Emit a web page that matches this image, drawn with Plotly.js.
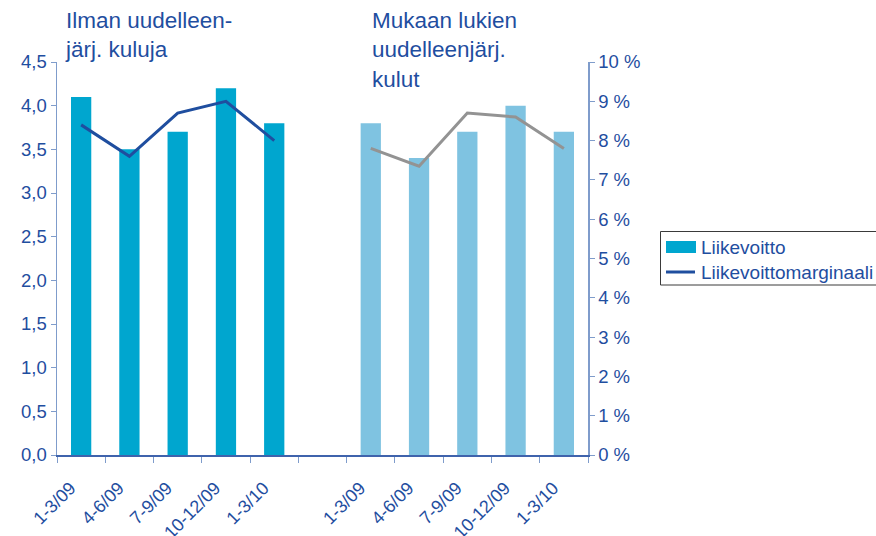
<!DOCTYPE html>
<html>
<head>
<meta charset="utf-8">
<script src="https://cdn.plot.ly/plotly-3.0.1.min.js"></script>
<style>html,body{margin:0;padding:0;background:#fff;}</style>
</head>
<body>
<div id="chart" style="width:876px;height:536px;"></div>
<script>
// Data
const quarters = ["1-3/09", "4-6/09", "7-9/09", "10-12/09", "1-3/10"];
const ebitExclRestructuring = [4.1, 3.5, 3.7, 4.2, 3.8];
const marginExclRestructuring = [8.4, 7.6, 8.7, 9.0, 8.0];
const ebitInclRestructuring = [3.8, 3.4, 3.7, 4.0, 3.7];
const marginInclRestructuring = [7.8, 7.35, 8.7, 8.6, 7.8];
const groupLabels = ["Ilman uudelleen-<br>järj. kuluja", "Mukaan lukien<br>uudelleenjärj.<br>kulut"];
const legendNames = ["Liikevoitto", "Liikevoittomarginaali"];

// positions: group 1 at slots 0..4, empty slot 5, group 2 at 6..10
const xLeft = quarters.map((q, i) => i);
const xRight = quarters.map((q, i) => i + quarters.length + 1);
const labelShift = -0.22;
const tickVals = xLeft.concat(xRight).map(v => v + labelShift);
const tickText = quarters.concat(quarters);

const textColor = "#1F4E9F";
const axisColor = "#7F9CCB";
const barColor1 = "#00A6CF";
const barColor2 = "#7FC3E1";
const lineColor1 = "#1F4E9F";
const lineColor2 = "#939393";
const font = "Liberation Sans, Arial, sans-serif";

const traces = [
  {type: "bar", x: xLeft, y: ebitExclRestructuring, name: legendNames[0],
   marker: {color: barColor1}, width: 0.42},
  {type: "bar", x: xRight, y: ebitInclRestructuring, name: legendNames[0],
   marker: {color: barColor2}, width: 0.42},
  {type: "scatter", mode: "lines", x: xLeft, y: marginExclRestructuring, yaxis: "y2",
   name: legendNames[1], line: {color: lineColor1, width: 3}},
  {type: "scatter", mode: "lines", x: xRight, y: marginInclRestructuring, yaxis: "y2",
   name: legendNames[1], line: {color: lineColor2, width: 3}}
];

// plot area in pixels: x 57..588, y 62..455 -> helpers for paper coords of the legend box
const px = v => (v - 57) / 531;
const py = v => (455 - v) / 393;

const layout = {
  width: 876, height: 536,
  margin: {l: 57, r: 288, t: 62, b: 81, pad: 0},
  paper_bgcolor: "#fff", plot_bgcolor: "#fff",
  separators: ", ",
  font: {family: font, color: textColor, size: 16},
  barmode: "overlay",
  showlegend: false,
  xaxis: {
    range: [-0.5, 10.5],
    tickmode: "array", tickvals: tickVals, ticktext: tickText,
    tickangle: -45, ticks: "", ticklabelstandoff: 14,
    tickfont: {size: 18, color: textColor},
    showgrid: false, zeroline: false,
    showline: true, linecolor: "#3F63AC", linewidth: 1.5,
    minor: {tickmode: "linear", tick0: -0.5, dtick: 1, ticks: "outside", ticklen: 6, tickcolor: axisColor, showgrid: false}
  },
  yaxis: {
    range: [0, 4.5], tickmode: "linear", tick0: 0, dtick: 0.5, tickformat: ".1f",
    ticks: "outside", ticklen: 5, tickcolor: axisColor,
    showline: true, linecolor: axisColor, linewidth: 1.5,
    showgrid: false, zeroline: false,
    tickfont: {size: 18.5, color: textColor}
  },
  yaxis2: {
    overlaying: "y", side: "right",
    range: [0, 10], tickmode: "linear", tick0: 0, dtick: 1, ticksuffix: " %",
    ticks: "outside", ticklen: 5, tickcolor: axisColor,
    showline: true, linecolor: axisColor, linewidth: 1.5,
    showgrid: false, zeroline: false,
    tickfont: {size: 18.5, color: textColor}
  },
  shapes: [
    // legend frame
    {type: "rect", xref: "paper", yref: "paper", x0: px(660.5), x1: px(905), y0: py(285), y1: py(231.5),
     line: {color: "#3a3a3a", width: 1}, fillcolor: "#fff", layer: "above"},
    // bar swatch
    {type: "rect", xref: "paper", yref: "paper", x0: px(666), x1: px(696), y0: py(253), y1: py(241),
     line: {width: 0}, fillcolor: barColor1, layer: "above"},
    // line swatch
    {type: "line", xref: "paper", yref: "paper", x0: px(666), x1: px(695), y0: py(272), y1: py(272),
     line: {color: lineColor1, width: 3}, layer: "above"}
  ],
  annotations: [
    {text: groupLabels[0], xref: "paper", yref: "paper", x: 0.012, y: 1.142,
     xanchor: "left", yanchor: "top", align: "left", showarrow: false,
     font: {size: 22.5, color: textColor, family: font}},
    {text: groupLabels[1], xref: "paper", yref: "paper", x: 0.589, y: 1.142,
     xanchor: "left", yanchor: "top", align: "left", showarrow: false,
     font: {size: 22.5, color: textColor, family: font}},
    {text: legendNames[0], xref: "paper", yref: "paper", x: px(699), y: py(247),
     xanchor: "left", yanchor: "middle", showarrow: false,
     font: {size: 19, color: textColor, family: font}},
    {text: legendNames[1], xref: "paper", yref: "paper", x: px(699), y: py(272.5),
     xanchor: "left", yanchor: "middle", showarrow: false,
     font: {size: 19, color: textColor, family: font}}
  ]
};

Plotly.newPlot("chart", traces, layout, {displayModeBar: false, staticPlot: true});
</script>
</body>
</html>
